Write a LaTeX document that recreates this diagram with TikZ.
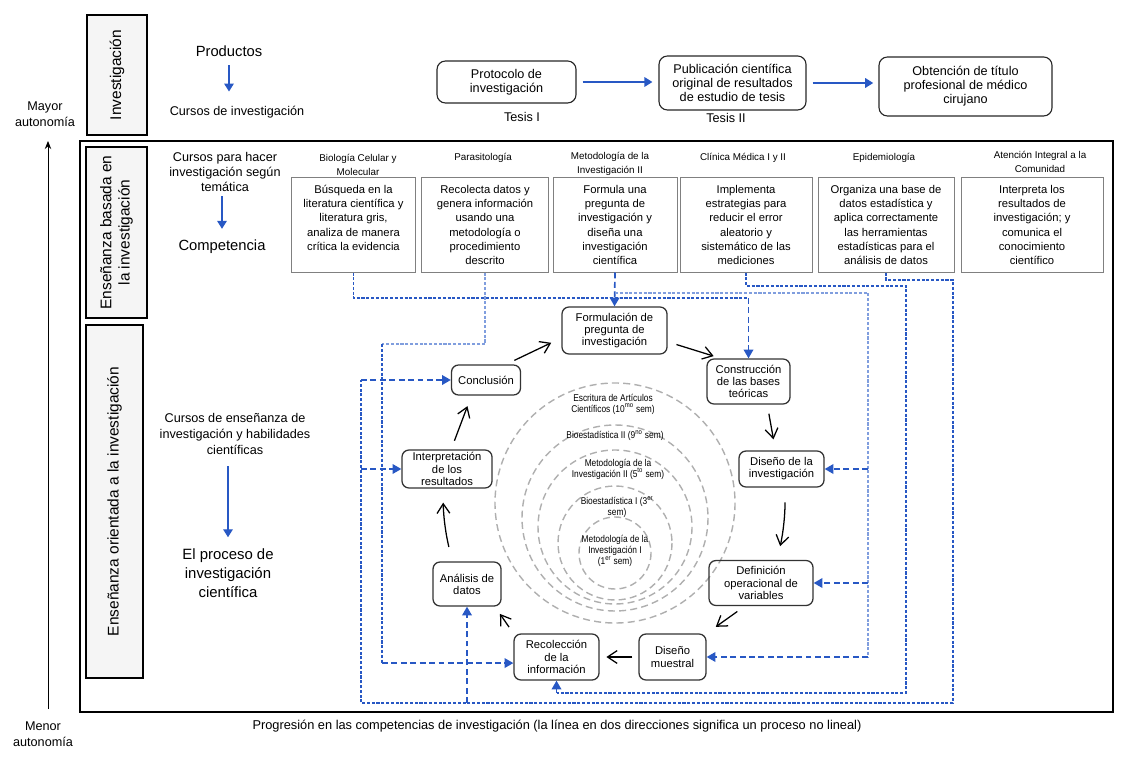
\documentclass[tikz,border=0pt]{standalone}
\usepackage{fontspec}
\setmainfont{Liberation Sans}
\newfontfamily\narrowfont[FakeStretch=0.85]{Liberation Sans}
\usetikzlibrary{arrows.meta}
\definecolor{linkblue}{RGB}{40,88,196}
\definecolor{lightblue}{RGB}{128,158,222}
\definecolor{sidegray}{RGB}{245,245,245}
\definecolor{ringgray}{RGB}{175,175,175}

\tikzset{
  sidebox/.style={draw, fill=sidegray, line width=0.8pt, rotate=90, align=center,
    font=\fontsize{11}{13}\selectfont, inner sep=0pt},
  txt/.style={align=center, inner sep=1pt},
  topbox/.style={draw=black!85, line width=0.8pt, rounded corners=6pt, align=center,
    font=\fontsize{9}{10}\selectfont},
  compbox/.style={draw=gray, line width=0.7pt, align=center, minimum height=2.35cm,
    font=\fontsize{8}{10.2}\selectfont, inner sep=2pt},
  course/.style={align=center, inner sep=0pt, font=\fontsize{7}{9.8}\selectfont},
  stage/.style={draw=black!80, line width=0.9pt, rounded corners=5pt, align=center,
    inner sep=1pt, font=\fontsize{8}{8.6}\selectfont},
  ring/.style={draw=ringgray, line width=1pt, dash pattern=on 5pt off 3pt},
  ringlabel/.style={align=center, inner sep=0pt, font=\narrowfont\fontsize{7}{7.8}\selectfont},
  blarr/.style={draw=linkblue, line width=1pt, -{Triangle[length=2mm,width=2.4mm]}},
  cycarr/.style={line width=0.9pt, -{Straight Barb[length=2.4mm,width=3.2mm]},
    shorten <=2.3mm, shorten >=2.8mm},
  route/.style={draw=linkblue, line width=0.75pt, dash pattern=on 2.2pt off 1.2pt},
  feed/.style={draw=linkblue, line width=1.2pt, dash pattern=on 4.2pt off 2.5pt,
    -{Triangle[length=2.2mm,width=2.4mm]}}
}

\begin{document}
\begin{tikzpicture}[x=0.025cm, y=-0.025cm]
\useasboundingbox (0,0) rectangle (1129,760);

% autonomy axis
\node[txt, font=\fontsize{9}{11.4}\selectfont] (mayor) at (45,114) {Mayor\\autonomía};
\node[txt, font=\fontsize{9}{11.4}\selectfont] (menor) at (43,734) {Menor\\autonomía};
\coordinate (axbot) at (48,709);
\coordinate (axtop) at (48,141);
\draw[line width=0.7pt, -{Stealth[length=2mm,width=1.6mm]}] (axbot) -- (axtop);

% frame and side labels
\draw[line width=0.8pt] (80,141) rectangle (1113,712);
\node[sidebox, minimum width=3cm, minimum height=1.5cm] (sinv) at (117,75) {Investigación};
\node[sidebox, minimum width=4.275cm, minimum height=1.525cm] (sbas) at (116.5,232.5)
  {Enseñanza basada en\\la investigación};
\node[sidebox, minimum width=8.825cm, minimum height=1.425cm] (sori) at (114.5,501.5)
  {Enseñanza orientada a la investigación};

% row 1: research products
\node[txt, font=\fontsize{10.5}{12}\selectfont] (prod) at (229,51) {Productos};
\node[txt, font=\fontsize{9}{11}\selectfont] (curinv) at (237,112) {Cursos de investigación};
\draw[blarr, shorten <=1.8mm, shorten >=3.2mm] (prod.south) -- (prod.south |- curinv.north);

\node[topbox, minimum width=3.475cm, minimum height=1.05cm] (prot) at (506.5,82)
  {Protocolo de\\investigación};
\node[topbox, minimum width=3.675cm, minimum height=1.35cm] (publ) at (732.5,83)
  {Publicación científica\\original de resultados\\de estudio de tesis};
\node[topbox, minimum width=4.325cm, minimum height=1.475cm] (obt) at (965.5,86.5)
  {Obtención de título\\profesional de médico\\cirujano};
\node[txt, font=\fontsize{9}{10}\selectfont] (tes1) at (522,117) {Tesis I};
\node[txt, font=\fontsize{9}{10}\selectfont] (tes2) at (726,118) {Tesis II};
\draw[blarr, shorten <=1.5mm, shorten >=1.5mm] (prot.east) -- (prot.east -| publ.west);
\draw[blarr, shorten <=1.5mm, shorten >=1.3mm] (publ.east) -- (publ.east -| obt.west);

% row 2: competences
\node[txt, font=\fontsize{9}{10.6}\selectfont] (cph) at (225,172)
  {Cursos para hacer\\investigación según\\temática};
\node[txt, font=\fontsize{10.5}{12}\selectfont] (compt) at (222,247) {Competencia};
\draw[blarr, shorten <=0.8mm, shorten >=2.4mm] (compt |- cph.south) -- (compt.north);

\node[course] (k1) at (358,165) {Biología Celular y\\Molecular};
\node[course] (k2) at (483,158) {Parasitología};
\node[course] (k3) at (610,164) {Metodología de la\\Investigación II};
\node[course] (k4) at (743,158) {Clínica Médica I y II};
\node[course] (k5) at (884,158) {Epidemiología};
\node[course] (k6) at (1040,162) {Atención Integral a la\\Comunidad};

\node[compbox, minimum width=3.075cm] (c1) at (353.5,225)
  {Búsqueda en la\\literatura científica y\\literatura gris,\\analiza de manera\\crítica la evidencia\\\mbox{}};
\node[compbox, minimum width=3.15cm] (c2) at (485,225)
  {Recolecta datos y\\genera información\\usando una\\metodología o\\procedimiento\\descrito};
\node[compbox, minimum width=3.1cm] (c3) at (615,225)
  {Formula una\\pregunta de\\investigación y\\diseña una\\investigación\\científica};
\node[compbox, minimum width=3.3cm] (c4) at (746,225)
  {Implementa\\estrategias para\\reducir el error\\aleatorio y\\sistemático de las\\mediciones};
\node[compbox, minimum width=3.4cm] (c5) at (886,225)
  {Organiza una base de\\datos estadística y\\aplica correctamente\\las herramientas\\estadísticas para el\\análisis de datos};
\node[compbox, minimum width=3.55cm] (c6) at (1032,225)
  {Interpreta los\\resultados de\\investigación; y\\comunica el\\conocimiento\\científico};

% row 3: research process
\node[txt, font=\fontsize{9}{11.3}\selectfont] (cde) at (235,434)
  {Cursos de enseñanza de\\investigación y habilidades\\científicas};
\node[txt, font=\fontsize{10.6}{13.5}\selectfont] (proc) at (228,573)
  {El proceso de\\investigación\\científica};
\draw[blarr, shorten <=2.5mm, shorten >=2.4mm] (proc |- cde.south) -- (proc.north);

% course rings
\draw[ring] (615,503) circle[radius=120];
\draw[ring] (615,518) circle[radius=93];
\draw[ring] (615,527) circle[radius=77];
\draw[ring] (615,543) circle[radius=57];
\draw[ring] (615,553) circle[radius=36];
\node[ringlabel] (l1) at (613,404) {Escritura de Artículos\\Científicos (10\textsuperscript{mo} sem)};
\node[ringlabel] (l2) at (615,436) {Bioestadística II (9\textsuperscript{no} sem)};
\node[ringlabel] (l3) at (618,469) {Metodología de la\\Investigación II (5\textsuperscript{to} sem)};
\node[ringlabel] (l4) at (617,507) {Bioestadística I (3\textsuperscript{er}\\sem)};
\node[ringlabel] (l5) at (615,551) {Metodología de la\\Investigación I\\(1\textsuperscript{er} sem)};

% cycle stages
\node[stage, minimum width=2.625cm, minimum height=1.175cm] (form) at (614.5,330.5)
  {Formulación de\\pregunta de\\investigación};
\node[stage, minimum width=2.075cm, minimum height=1.125cm] (cons) at (748.5,381.5)
  {Construcción\\de las bases\\teóricas};
\node[stage, minimum width=2.125cm, minimum height=0.9cm] (dise) at (781.5,469)
  {Diseño de la\\investigación};
\node[stage, minimum width=2.6cm, minimum height=1.125cm] (defi) at (761,583)
  {Definición\\operacional de\\variables};
\node[stage, minimum width=1.675cm, minimum height=1.15cm] (mues) at (672.5,657)
  {Diseño\\muestral};
\node[stage, minimum width=2.125cm, minimum height=1.15cm] (reco) at (556.5,657)
  {Recolección\\de la\\información};
\node[stage, minimum width=1.7cm, minimum height=1.1cm] (anal) at (467,584)
  {Análisis de\\datos};
\node[stage, minimum width=2.25cm, minimum height=0.95cm] (inte) at (447,469)
  {Interpretación\\de los\\resultados};
\node[stage, minimum width=1.725cm, minimum height=0.75cm] (conc) at (486,380)
  {Conclusión};

\draw[cycarr] (conc.38) -- (form.188);
\draw[cycarr, shorten >=1.9mm] (form.348) -- (cons.140);
\draw[cycarr] (cons.-51) -- (dise.108);
\draw[cycarr, shorten <=3.7mm, shorten >=3.5mm] (dise.-79) to[bend left=6] (defi.55);
\draw[cycarr] (defi.235) -- (mues.north east);
\draw[cycarr, shorten <=1.5mm, shorten >=1.7mm] (mues.west) -- (reco.east);
\draw[cycarr, shorten <=1.9mm, shorten >=2.2mm] (reco.north west) -- (anal.-39);
\draw[cycarr, shorten <=3.7mm, shorten >=3.5mm] (anal.123) to[bend left=6] (inte.258);
\draw[cycarr] (inte.78) -- (conc.227);

% dashed links from competences to stages
\coordinate (lvA) at (0,298);
\coordinate (lvB) at (0,344);
\coordinate (lvC) at (0,293);
\coordinate (lvD) at (0,286);
\coordinate (lvE) at (0,693);
\coordinate (lvF) at (0,280);
\coordinate (lvG) at (0,703);
\coordinate (colB) at (382,0);
\coordinate (colC) at (868,0);
\coordinate (colD) at (906,0);
\coordinate (colF) at (953,0);
\coordinate (colG) at (361,0);

\draw[route] (c1.south) |- (cons.north |- lvA);
\draw[feed] (cons.north |- lvA) -- (cons.north);

\draw[route, draw=lightblue] (c2.south) |- (colB |- lvB);
\draw[route] (colB |- lvB) -- (colB |- reco.188);
\draw[feed] (colB |- reco.188) -- (reco.188);

\draw[feed] (c3.south) -- (form.north);
\draw[route, draw=lightblue] (c3.south |- lvC) -| (colC |- mues.east);
\draw[feed] (colC |- dise.east) -- (dise.east);
\draw[feed] (colC |- defi.east) -- (defi.east);
\draw[feed] (colC |- mues.east) -- (mues.east);

\draw[route] (c4.south) |- (colD |- lvD) |- (reco.south |- lvE);
\draw[feed] (reco.south |- lvE) -- (reco.south);

\draw[route] (c5.south) |- (colF |- lvF) |- (colG |- lvG) -- (colG |- conc.west);
\draw[feed] (anal.south |- lvG) -- (anal.south);
\draw[feed] (colG |- inte.west) -- (inte.west);
\draw[feed] (colG |- conc.west) -- (conc.west);

% caption
\node[txt, font=\fontsize{9.1}{10}\selectfont] (capt) at (557,726)
  {Progresión en las competencias de investigación (la línea en dos direcciones significa un proceso no lineal)};
\end{tikzpicture}
\end{document}
